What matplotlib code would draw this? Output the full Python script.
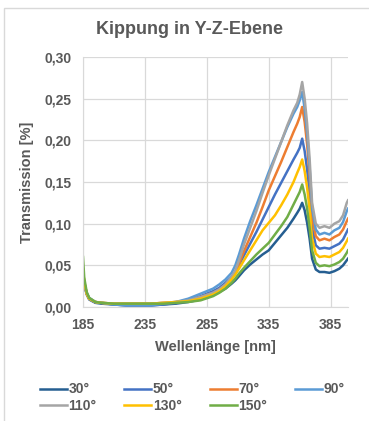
"""Kippung in Y-Z-Ebene: transmission spectra for several tilt angles."""

import matplotlib

matplotlib.use("Agg")
import matplotlib.pyplot as plt
from matplotlib.patches import Rectangle
from matplotlib.ticker import FuncFormatter

WAVELENGTH = [185, 186, 188, 190, 195, 200, 210, 220, 230, 240, 250, 260, 270, 280, 290, 295,
              300, 305, 308, 311, 315, 320, 325, 330, 335, 340, 345, 350, 355, 358, 360, 362,
              364, 366, 368, 370, 373, 376, 380, 384, 388, 392, 395, 398, 399]

T_30 = [0.040, 0.027, 0.015, 0.009, 0.005, 0.004, 0.003, 0.002, 0.002, 0.002, 0.003, 0.004, 0.006,
        0.009, 0.014, 0.018, 0.022, 0.028, 0.032, 0.037, 0.044, 0.051, 0.057, 0.063, 0.068, 0.077,
        0.086, 0.095, 0.106, 0.113, 0.118, 0.125, 0.116, 0.101, 0.082, 0.058, 0.045, 0.042, 0.042,
        0.041, 0.043, 0.046, 0.050, 0.056, 0.058]
T_50 = [0.040, 0.028, 0.016, 0.010, 0.006, 0.005, 0.003, 0.002, 0.002, 0.002, 0.003, 0.005, 0.008,
        0.013, 0.019, 0.023, 0.029, 0.036, 0.042, 0.050, 0.062, 0.076, 0.090, 0.105, 0.120, 0.135,
        0.149, 0.163, 0.177, 0.185, 0.191, 0.202, 0.187, 0.165, 0.135, 0.095, 0.074, 0.070, 0.071,
        0.070, 0.073, 0.076, 0.081, 0.090, 0.093]
T_70 = [0.045, 0.030, 0.016, 0.010, 0.006, 0.005, 0.004, 0.004, 0.004, 0.004, 0.005, 0.006, 0.008,
        0.012, 0.017, 0.021, 0.027, 0.035, 0.042, 0.052, 0.067, 0.084, 0.101, 0.120, 0.140, 0.157,
        0.174, 0.192, 0.210, 0.220, 0.228, 0.240, 0.222, 0.195, 0.158, 0.108, 0.085, 0.080, 0.082,
        0.080, 0.084, 0.087, 0.093, 0.103, 0.106]
T_90 = [0.040, 0.028, 0.017, 0.011, 0.006, 0.005, 0.003, 0.002, 0.002, 0.002, 0.004, 0.006, 0.010,
        0.016, 0.022, 0.027, 0.033, 0.041, 0.050, 0.063, 0.082, 0.103, 0.122, 0.142, 0.162, 0.180,
        0.198, 0.216, 0.232, 0.240, 0.248, 0.258, 0.238, 0.208, 0.168, 0.118, 0.093, 0.087, 0.089,
        0.087, 0.092, 0.095, 0.102, 0.115, 0.118]
T_110 = [0.045, 0.030, 0.016, 0.010, 0.006, 0.005, 0.004, 0.004, 0.004, 0.004, 0.005, 0.006, 0.008,
         0.012, 0.017, 0.021, 0.027, 0.036, 0.044, 0.056, 0.075, 0.095, 0.115, 0.137, 0.158, 0.178,
         0.198, 0.218, 0.236, 0.245, 0.255, 0.270, 0.250, 0.220, 0.178, 0.125, 0.100, 0.095, 0.097,
         0.095, 0.100, 0.103, 0.110, 0.125, 0.128]
T_130 = [0.045, 0.030, 0.016, 0.010, 0.006, 0.005, 0.004, 0.004, 0.004, 0.004, 0.005, 0.006, 0.007,
         0.010, 0.015, 0.019, 0.025, 0.033, 0.039, 0.046, 0.056, 0.068, 0.080, 0.092, 0.101, 0.110,
         0.122, 0.135, 0.150, 0.161, 0.168, 0.177, 0.163, 0.143, 0.117, 0.082, 0.064, 0.060, 0.061,
         0.060, 0.063, 0.066, 0.071, 0.079, 0.082]
T_150 = [0.060, 0.035, 0.018, 0.011, 0.006, 0.005, 0.004, 0.004, 0.004, 0.004, 0.004, 0.005, 0.006,
         0.008, 0.013, 0.017, 0.022, 0.029, 0.034, 0.040, 0.047, 0.055, 0.063, 0.070, 0.077, 0.087,
         0.097, 0.108, 0.123, 0.132, 0.138, 0.147, 0.135, 0.118, 0.095, 0.068, 0.053, 0.049, 0.050,
         0.049, 0.051, 0.054, 0.058, 0.065, 0.068]

SERIES_LABELS = ["30°", "50°", "70°", "90°", "110°", "130°", "150°"]
SERIES_COLORS = ["#255E91", "#4472C4", "#ED7D31", "#5B9BD5", "#A5A5A5", "#FFC000", "#70AD47"]
X_TICKS = [185, 235, 285, 335, 385]
Y_TICKS = [0.00, 0.05, 0.10, 0.15, 0.20, 0.25, 0.30]

TEXT = "#595959"
GRID = "#D9D9D9"

plt.rcParams["font.family"] = ["Liberation Sans", "DejaVu Sans"]
plt.rcParams["font.weight"] = "bold"

W, H = 369, 421
fig = plt.figure(figsize=(W / 100, H / 100), dpi=100)
# light chart-area frame, cut off at the right and bottom like the screenshot
fig.patches.append(Rectangle((4 / W, -0.1), 1.2, 1.1 - 8 / H, transform=fig.transFigure,
                             fill=False, edgecolor=GRID, linewidth=1.0))

ax = fig.add_axes([83 / W, 1 - 307 / H, (348 - 83) / W, (307 - 57) / H])
series = [T_30, T_50, T_70, T_90, T_110, T_130, T_150]
lines = []
for values, label, color in zip(series, SERIES_LABELS, SERIES_COLORS):
    (ln,) = ax.plot(WAVELENGTH, values, color=color, linewidth=1.8, label=label)
    lines.append(ln)

ax.set_xlim(185, 399)
ax.set_ylim(0, 0.30)
ax.set_xticks(X_TICKS)
ax.set_yticks(Y_TICKS)
ax.yaxis.set_major_formatter(FuncFormatter(lambda v, _: f"{v:.2f}".replace(".", ",")))
ax.tick_params(length=0, labelsize=10, labelcolor=TEXT, pad=8)
ax.grid(True, color=GRID, linewidth=0.9)
ax.set_axisbelow(True)
for spine in ("top", "right"):
    ax.spines[spine].set_visible(False)
ax.spines["left"].set_color(GRID)
ax.spines["bottom"].set_color(GRID)

ax.set_xlabel("Wellenlänge [nm]", fontsize=10.5, fontweight="bold", color=TEXT, labelpad=6)
fig.text(27 / W, 1 - 182 / H, "Transmission [%]", rotation=90, ha="center", va="center",
         fontsize=10.5, color=TEXT)
fig.text(190 / W, 1 - 30 / H, "Kippung in Y-Z-Ebene", ha="center", va="center",
         fontsize=13, color=TEXT)

# matplotlib fills legend columns top to bottom; reorder so rows read 30..90 / 110..150
order = [0, 4, 1, 5, 2, 6, 3]
fig.legend([lines[i] for i in order], [SERIES_LABELS[i] for i in order], ncol=4,
           loc="center left", bbox_to_anchor=(40 / W, 1 - 397.5 / H), frameon=False,
           fontsize=10, labelcolor=TEXT, handlelength=1.95, handletextpad=0.1,
           columnspacing=2.0, labelspacing=0.15, borderpad=0, borderaxespad=0)

fig.savefig("out.png", dpi=100)
